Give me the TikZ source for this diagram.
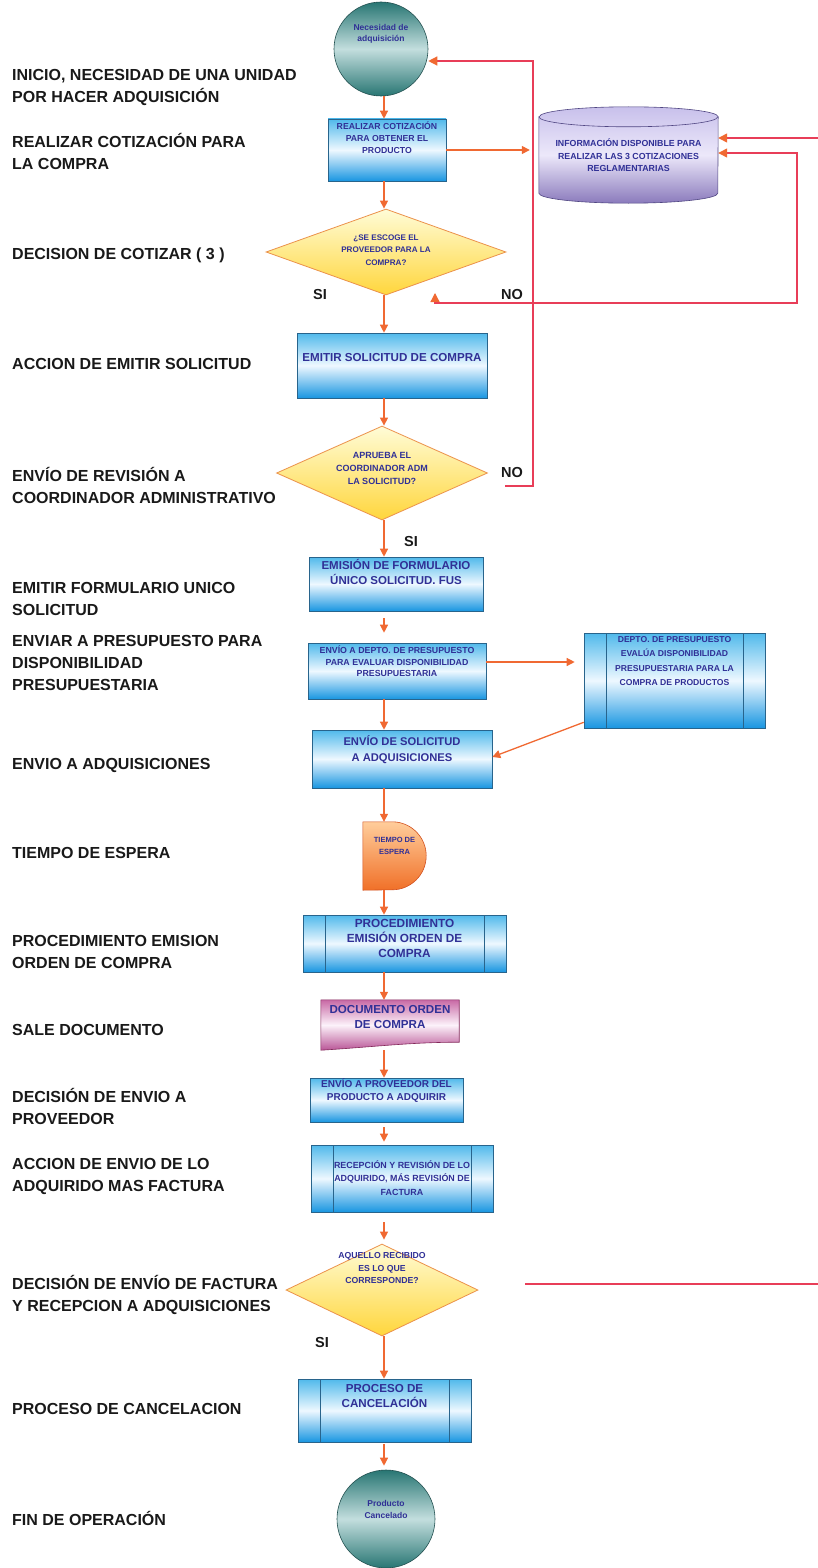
\documentclass[tikz,border=0pt]{standalone}
\usepackage{fontspec}
\setmainfont{Liberation Sans}
\usepackage{tikz}
\usetikzlibrary{positioning,calc,shapes.geometric,arrows.meta,backgrounds}
\definecolor{FlowOrange}{RGB}{240,105,50}
\definecolor{LoopRed}{RGB}{232,62,88}
\definecolor{TextBlue}{RGB}{48,48,150}
\definecolor{BoxTop}{RGB}{80,185,235}
\definecolor{BoxMid}{RGB}{238,248,255}
\definecolor{BoxBot}{RGB}{25,150,225}
\definecolor{BoxLine}{RGB}{40,100,140}
\definecolor{DiaTop}{RGB}{255,252,215}
\definecolor{DiaBot}{RGB}{255,214,60}
\definecolor{DiaLine}{RGB}{235,145,75}
\definecolor{TermDark}{RGB}{40,118,115}
\definecolor{TermLight}{RGB}{195,222,222}
\definecolor{TermLine}{RGB}{35,80,80}
\definecolor{CylTop}{RGB}{200,192,235}
\definecolor{CylMid}{RGB}{236,232,250}
\definecolor{CylBot}{RGB}{138,122,188}
\definecolor{CylLine}{RGB}{80,70,130}
\definecolor{WaitTop}{RGB}{255,205,155}
\definecolor{WaitBot}{RGB}{240,112,40}
\definecolor{WaitLine}{RGB}{210,80,30}
\definecolor{DocTop}{RGB}{200,105,165}
\definecolor{DocMid}{RGB}{252,242,250}
\definecolor{DocBot}{RGB}{185,85,150}
\definecolor{DocLine}{RGB}{130,40,90}
\newcommand{\fsz}[2]{\fontsize{#1}{#2}\selectfont\bfseries}
\newcommand{\lift}[2]{\raisebox{#1}[0pt][0pt]{\begin{tabular}{@{}c@{}}#2\end{tabular}}}
\newcommand{\steptxt}[1]{\begin{tabular}[t]{@{}l@{}}#1\end{tabular}}

\begin{document}
\begin{tikzpicture}[
        x=1pt, y=1pt,
        % --- ESTILOS ---
        proc_box/.style={
            rectangle,
            draw=BoxLine, line width=0.6pt,
            top color=BoxTop, bottom color=BoxBot, middle color=BoxMid,
            text=TextBlue,
            inner sep=0pt
        },
        % Subproceso (lineas verticales internas)
        sub_proc/.style={
            proc_box,
            path picture={
                \draw[BoxLine, line width=0.5pt] ([xshift=22pt]path picture bounding box.north west) -- ([xshift=22pt]path picture bounding box.south west);
                \draw[BoxLine, line width=0.5pt] ([xshift=-22pt]path picture bounding box.north east) -- ([xshift=-22pt]path picture bounding box.south east);
            }
        },
        % Decision (rombo amarillo)
        decision/.style={
            diamond,
            draw=DiaLine, line width=0.8pt,
            top color=DiaTop, bottom color=DiaBot,
            text=TextBlue,
            inner sep=0pt
        },
        % Inicio / fin
        term/.style={
            circle,
            draw=TermLine, line width=0.6pt,
            top color=TermDark, bottom color=TermDark, middle color=TermLight,
            text=TextBlue,
            inner sep=0pt
        },
        plain_box/.style={rectangle, inner sep=0pt, text=TextBlue},
        step_lbl/.style={anchor=base west, inner sep=0pt, text=black!90, font=\fsz{16}{22}},
        yesno/.style={inner sep=0pt, text=black!90, font=\fsz{14.5}{17}},
        % Conectores
        flow/.style={draw=FlowOrange, line width=1.3pt, -{Triangle[length=8pt,width=8pt]}},
        loop_line/.style={draw=LoopRed, line width=1.3pt}
    ]
    \useasboundingbox (0,0) rectangle (817,-1568);

    % --- COLUMNA IZQUIERDA ---
    \node[step_lbl] (l1) at (12,-81) {\steptxt{INICIO, NECESIDAD DE UNA UNIDAD\\POR HACER ADQUISICIÓN}};
    \node[step_lbl] (l2) at (12,-147) {\steptxt{REALIZAR COTIZACIÓN PARA\\LA COMPRA}};
    \node[step_lbl] (l3) at (12,-259) {\steptxt{DECISION DE COTIZAR ( 3 )}};
    \node[step_lbl] (l4) at (12,-369) {\steptxt{ACCION DE EMITIR SOLICITUD}};
    \node[step_lbl] (l5) at (12,-481) {\steptxt{ENVÍO DE REVISIÓN A\\COORDINADOR ADMINISTRATIVO}};
    \node[step_lbl] (l6) at (12,-593) {\steptxt{EMITIR FORMULARIO UNICO\\SOLICITUD}};
    \node[step_lbl] (l7) at (12,-646) {\steptxt{ENVIAR A PRESUPUESTO PARA\\DISPONIBILIDAD\\PRESUPUESTARIA}};
    \node[step_lbl] (l8) at (12,-769) {\steptxt{ENVIO A ADQUISICIONES}};
    \node[step_lbl] (l9) at (12,-858) {\steptxt{TIEMPO DE ESPERA}};
    \node[step_lbl] (l10) at (12,-946) {\steptxt{PROCEDIMIENTO EMISION\\ORDEN DE COMPRA}};
    \node[step_lbl] (l11) at (12,-1035) {\steptxt{SALE DOCUMENTO}};
    \node[step_lbl] (l12) at (12,-1102) {\steptxt{DECISIÓN DE ENVIO A\\PROVEEDOR}};
    \node[step_lbl] (l13) at (12,-1169) {\steptxt{ACCION DE ENVIO DE LO\\ADQUIRIDO MAS FACTURA}};
    \node[step_lbl] (l14) at (12,-1289) {\steptxt{DECISIÓN DE ENVÍO DE FACTURA\\Y RECEPCION A ADQUISICIONES}};
    \node[step_lbl] (l15) at (12,-1414) {\steptxt{PROCESO DE CANCELACION}};
    \node[step_lbl] (l16) at (12,-1525) {\steptxt{FIN DE OPERACIÓN}};

    % --- FLUJO PRINCIPAL ---
    \node[term, minimum size=94pt, font=\fsz{8.5}{11}] (start) at (381,-49) {\lift{13pt}{Necesidad de\\adquisición}};
    \node[proc_box, minimum width=118pt, minimum height=62pt, font=\fsz{8.7}{12}] (cot) at (387,-150) {\lift{9pt}{REALIZAR COTIZACIÓN\\PARA OBTENER EL\\PRODUCTO}};
    \node[plain_box, minimum width=179pt, minimum height=96pt, font=\fsz{8.8}{12.5}] (info) at (628.5,-155) {\lift{-4pt}{INFORMACIÓN DISPONIBLE PARA\\REALIZAR LAS 3 COTIZACIONES\\REGLAMENTARIAS}};
    \node[decision, minimum width=240pt, minimum height=86pt, aspect=2.8, font=\fsz{8.1}{12.5}] (dec1) at (386,-252) {\lift{0pt}{¿SE ESCOGE EL\\PROVEEDOR PARA LA\\COMPRA?}};
    \node[proc_box, minimum width=190pt, minimum height=65pt, font=\fsz{11.6}{15}] (emitir) at (392,-365.5) {\lift{4pt}{EMITIR SOLICITUD DE COMPRA}};
    \node[decision, minimum width=211pt, minimum height=94pt, aspect=2.24, font=\fsz{9}{13}] (dec2) at (382,-473) {\lift{2pt}{APRUEBA EL\\COORDINADOR ADM\\LA SOLICITUD?}};
    \node[proc_box, minimum width=174pt, minimum height=54pt, font=\fsz{11.5}{15}] (fus) at (396,-584) {\lift{7pt}{EMISIÓN DE FORMULARIO\\ÚNICO SOLICITUD. FUS}};
    \node[proc_box, minimum width=178pt, minimum height=56pt, font=\fsz{8.8}{11.5}] (envdep) at (397,-671) {\lift{6pt}{ENVÍO A DEPTO. DE PRESUPUESTO\\PARA EVALUAR DISPONIBILIDAD\\PRESUPUESTARIA}};
    \node[sub_proc, minimum width=181pt, minimum height=95pt, font=\fsz{8.6}{14.3}] (depto) at (674.5,-680.5) {\lift{17pt}{DEPTO. DE PRESUPUESTO\\EVALÚA DISPONIBILIDAD\\PRESUPUESTARIA PARA LA\\COMPRA DE PRODUCTOS}};
    \node[proc_box, minimum width=180pt, minimum height=58pt, font=\fsz{11.2}{16}] (envadq) at (402,-759) {\lift{6pt}{ENVÍO DE SOLICITUD\\A ADQUISICIONES}};
    \node[plain_box, minimum width=63pt, minimum height=68pt, font=\fsz{7.5}{12}] (espera) at (394.5,-856) {\lift{8pt}{TIEMPO DE\\ESPERA}};
    \node[sub_proc, minimum width=203pt, minimum height=57pt, font=\fsz{11.8}{15}] (orden) at (404.5,-943.5) {\lift{1pt}{PROCEDIMIENTO\\EMISIÓN ORDEN DE\\COMPRA}};
    \node[plain_box, minimum width=138pt, minimum height=50pt, font=\fsz{11.6}{15}] (docu) at (390,-1025) {\lift{4pt}{DOCUMENTO ORDEN\\DE COMPRA}};
    \node[proc_box, minimum width=153pt, minimum height=44pt, font=\fsz{10}{13}] (prov) at (386.5,-1100) {\lift{6.5pt}{ENVÍO A PROVEEDOR DEL\\PRODUCTO A ADQUIRIR}};
    \node[sub_proc, minimum width=182pt, minimum height=67pt, font=\fsz{8.9}{13.5}] (recep) at (402,-1178.5) {\lift{-3pt}{RECEPCIÓN Y REVISIÓN DE LO\\ADQUIRIDO, MÁS REVISIÓN DE\\FACTURA}};
    \node[decision, minimum width=192pt, minimum height=92pt, aspect=2.09, font=\fsz{8.7}{12.5}] (dec3) at (382,-1290) {\lift{19pt}{AQUELLO RECIBIDO\\ES LO QUE\\CORRESPONDE?}};
    \node[sub_proc, minimum width=173pt, minimum height=63pt, font=\fsz{11.6}{15}] (cancel) at (384.5,-1410.5) {\lift{11pt}{PROCESO DE\\CANCELACIÓN}};
    \node[term, minimum size=98pt, font=\fsz{8.5}{11.5}] (fin) at (386,-1519) {\lift{7pt}{Producto\\Cancelado}};

    % --- FORMAS ESPECIALES (fondo) ---
    \begin{scope}[on background layer]
        % Cilindro de informacion
        \path[draw=CylLine, line width=0.6pt, top color=CylTop, bottom color=CylBot, middle color=CylMid]
            ([yshift=-10pt]info.north west) -- ([yshift=10pt]info.south west)
            arc[start angle=180, end angle=360, x radius=89.5pt, y radius=10pt]
            -- ([yshift=-10pt]info.north east)
            arc[start angle=0, end angle=180, x radius=89.5pt, y radius=10pt] -- cycle;
        \draw[CylLine, line width=0.6pt] ([yshift=-10pt]info.north west)
            arc[start angle=180, end angle=360, x radius=89.5pt, y radius=10pt];
        % Retraso
        \path[draw=WaitLine, line width=0.6pt, top color=WaitTop, bottom color=WaitBot]
            (espera.north west) -- ([xshift=-34pt]espera.north east)
            arc[start angle=90, end angle=-90, radius=34pt] -- (espera.south west) -- cycle;
        % Documento
        \path[draw=DocLine, line width=0.6pt, top color=DocTop, bottom color=DocBot, middle color=DocMid]
            (docu.north west) -- (docu.north east) -- ([yshift=8pt]docu.south east)
            .. controls ([xshift=-50pt,yshift=8pt]docu.south east) and ([xshift=50pt,yshift=3pt]docu.south west) .. (docu.south west) -- cycle;
    \end{scope}

    % --- ETIQUETAS SI / NO ---
    \node[yesno] (si1) at (320,-295) {SI};
    \node[yesno] (no1lbl) at (512,-295) {NO};
    \node[yesno] (no2lbl) at (512,-473) {NO};
    \node[yesno] (si2) at (411,-542) {SI};
    \node[yesno] (si3) at (322,-1342) {SI};

    % --- CONECTORES ---
    \coordinate (axis) at (384,0);
    \foreach \a/\b in {start/cot, cot/dec1, dec1/emitir, emitir/dec2, dec2/fus, envdep/envadq, envadq/espera, espera/orden, orden/docu, docu/prov, dec3/cancel} {
        \draw[flow] (\a.south -| axis) -- (\b.north -| axis);
    }
    \foreach \a/\b/\s/\e in {fus/envdep/7pt/10pt, prov/recep/5pt/3pt, recep/dec3/10pt/4pt, cancel/fin/2pt/4pt} {
        \draw[flow, shorten <=\s, shorten >=\e] (\a.south -| axis) -- (\b.north -| axis);
    }
    \draw[flow, shorten >=9pt] (cot.east) -- (cot.east -| info.west);
    \draw[flow, shorten >=9pt] ([yshift=9pt]envdep.east) -- ([yshift=9pt]envdep.east -| depto.west);
    \draw[flow] ([yshift=6pt]depto.south west) -- ([yshift=2pt]envadq.east);

    % --- RETORNOS (NO) ---
    \coordinate (no2) at (505,-486);
    \coordinate (up2) at (533,-61);
    \draw[loop_line, -{Triangle[length=9pt,width=9pt,color=FlowOrange]}] (no2) -| (up2) -- (up2 -| start.east);

    \coordinate (no1) at (435,-293);
    \coordinate (back1) at (797,-303);
    \draw[loop_line, {Triangle[length=9pt,width=9pt,color=FlowOrange]}-{Triangle[length=9pt,width=9pt,color=FlowOrange]}] (no1) |- (back1) |- ([yshift=2pt]info.east);

    \coordinate (no3) at (525,-1284);
    \coordinate (edge3) at (826,-1284);
    \draw[loop_line, -{Triangle[length=9pt,width=9pt,color=FlowOrange]}] (no3) -- (edge3) |- ([yshift=17pt]info.east);

\end{tikzpicture}
\end{document}
